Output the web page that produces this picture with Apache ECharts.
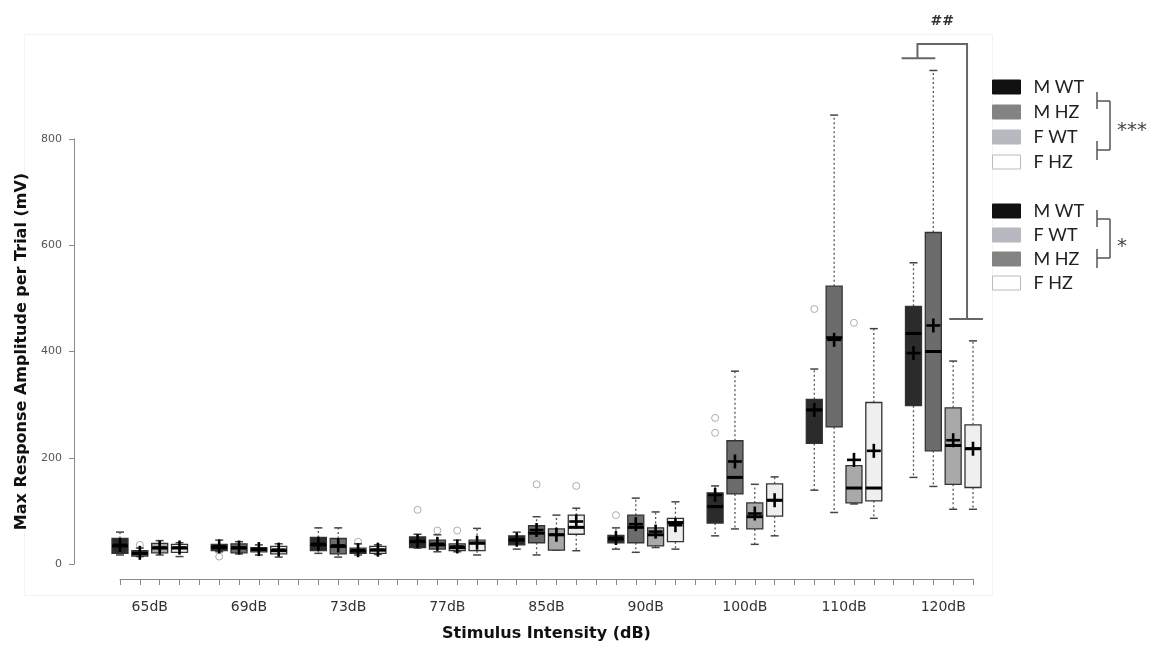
<!DOCTYPE html>
<html><head><meta charset="utf-8">
<script src="https://cdn.jsdelivr.net/npm/echarts@6/dist/echarts.min.js"></script>
<style>html,body{margin:0;padding:0;background:#fff}#c{width:1164px;height:649px}</style>
</head><body><div id="c"></div>
<script>
// ---------- data ----------
const intensities = ['65dB','69dB','73dB','77dB','85dB','90dB','100dB','110dB','120dB'];
const groupNames = ['M WT','M HZ','F WT','F HZ'];
const yTickMin = 0, yTickMax = 800, yTickStep = 200;
// each entry: [min, Q1, median, Q3, max, mean]  (mV)
const mWT = [[17,20,34,48,60,36],[23,25,31,37,45,33],[20,25,36,50,68,38],[30,31,42,51,56,43],[28,36,45,53,60,46],[28,40,47,54,68,49],[53,77,108,134,147,130],[139,227,290,310,367,290],[163,298,434,485,567,397]];
const mHZ = [[14,15,20,25,30,21],[19,21,30,38,42,31],[13,19,33,48,68,35],[23,28,36,45,55,38],[17,40,58,72,89,64],[22,40,69,92,124,75],[66,132,163,232,363,193],[97,258,426,523,845,422],[146,213,400,624,929,449]];
const fWT = [[17,21,30,39,44,31],[17,23,27,31,36,28],[17,20,24,30,38,26],[23,25,31,38,45,33],[26,26,55,66,92,55],[31,34,55,68,98,61],[37,66,89,115,150,95],[113,115,143,185,185,196],[103,150,223,294,382,233]];
const fHZ = [[14,22,30,37,40,31],[13,19,25,33,38,27],[18,20,26,33,36,27],[17,25,39,45,67,40],[25,56,69,92,105,80],[28,42,78,86,117,73],[53,90,120,151,164,120],[86,119,143,304,443,213],[103,144,217,262,420,217]];
// outliers: [intensity index, value]
const mWTout = [[1,14],[3,102],[5,92],[6,247],[6,275],[7,480]];
const mHZout = [[0,36],[3,63],[4,150]];
const fWTout = [[2,42],[3,63],[7,454]];
const fHZout = [[4,147]];
// significance bracket (slot units / mV)
const sigLeft = [39.4, 41.1, 952];
const sigTop = [40.2, 42.7, 979];
const sigRight = [41.8, 43.5, 461];
const sigLabel = ['##', 41.45, 1022];

// ---------- styles ----------
const fills = ['#2b2b2b','#6c6c6c','#a9a9a9','#efefef'];
const swatch = ['#111111','#838383','#b8b8c0','#ffffff'];
const SLOTS = 5;

function toBoxData(arr, j){ return arr.map((d,g)=>[g*SLOTS+j].concat(d)); }
function toOutData(arr, j){ return arr.map(d=>[d[0]*SLOTS+j, d[1]]); }

function boxRender(fill){
  return function(params, api){
    const x = api.value(0);
    const c = i => api.coord([x, api.value(i)]);
    const pMin=c(1), pQ1=c(2), pMed=c(3), pQ3=c(4), pMax=c(5), pMean=c(6);
    const cx = pMin[0], hw = 8, cap = 4, pl = 7;
    const wStyle = {stroke:'#555', lineWidth:1.3, lineDash:[2,2.5], fill:null};
    const cStyle = {stroke:'#444', lineWidth:1.5};
    return {type:'group', children:[
      {type:'line', shape:{x1:cx,y1:pQ3[1],x2:cx,y2:pMax[1]}, style:wStyle},
      {type:'line', shape:{x1:cx,y1:pQ1[1],x2:cx,y2:pMin[1]}, style:wStyle},
      {type:'line', shape:{x1:cx-cap,y1:pMax[1],x2:cx+cap,y2:pMax[1]}, style:cStyle},
      {type:'line', shape:{x1:cx-cap,y1:pMin[1],x2:cx+cap,y2:pMin[1]}, style:cStyle},
      {type:'rect', shape:{x:cx-hw,y:pQ3[1],width:hw*2,height:Math.max(pQ1[1]-pQ3[1],0.5)}, style:{fill:fill, stroke:'#333', lineWidth:1.3}},
      {type:'line', shape:{x1:cx-hw,y1:pMed[1],x2:cx+hw,y2:pMed[1]}, style:{stroke:'#000', lineWidth:3}},
      {type:'line', shape:{x1:cx-pl,y1:pMean[1],x2:cx+pl,y2:pMean[1]}, style:{stroke:'#000', lineWidth:2.6}},
      {type:'line', shape:{x1:cx,y1:pMean[1]-pl,x2:cx,y2:pMean[1]+pl}, style:{stroke:'#000', lineWidth:2.6}}
    ]};
  };
}

const boxSets = [mWT, mHZ, fWT, fHZ];
const outSets = [mWTout, mHZout, fWTout, fHZout];
const series = [];
groupNames.forEach((name, j)=>{
  series.push({
    type:'custom', name:name, xAxisIndex:0, yAxisIndex:0,
    itemStyle:{color: swatch[j]},
    encode:{x:0, y:[1,2,3,4,5,6]},
    data: toBoxData(boxSets[j], j),
    renderItem: boxRender(fills[j]),
    clip:false, z:3
  });
  series.push({
    type:'scatter', name:name+' outliers', xAxisIndex:0, yAxisIndex:0,
    symbol:'circle', symbolSize:7,
    itemStyle:{color:'#fff', borderColor:'#999', borderWidth:1},
    data: toOutData(outSets[j], j), z:2, clip:false
  });
});
series.push({
  type:'custom', name:'sig', xAxisIndex:0, yAxisIndex:0, clip:false, z:4,
  data:[[sigLabel[1], sigLabel[2]]],
  renderItem:function(params, api){
    const p = (x,y)=>api.coord([x,y]);
    const st = {stroke:'#666', lineWidth:2, fill:null};
    const a = p(sigLeft[0],sigLeft[2]), b = p(sigLeft[1],sigLeft[2]);
    const t0 = p(sigTop[0],sigLeft[2]), t1 = p(sigTop[0],sigTop[2]), t2 = p(sigTop[1],sigTop[2]), t3 = p(sigTop[1],sigRight[2]);
    const r0 = p(sigRight[0],sigRight[2]), r1 = p(sigRight[1],sigRight[2]);
    const lab = p(sigLabel[1], sigLabel[2]);
    return {type:'group', children:[
      {type:'line', shape:{x1:a[0],y1:a[1],x2:b[0],y2:b[1]}, style:st},
      {type:'polyline', shape:{points:[t0,t1,t2,t3]}, style:st},
      {type:'line', shape:{x1:r0[0],y1:r0[1],x2:r1[0],y2:r1[1]}, style:st},
      {type:'text', x:lab[0], y:lab[1], style:{text:sigLabel[0], fill:'#333', font:'bold 14px "DejaVu Sans"', align:'center', verticalAlign:'middle'}}
    ]};
  }
});

// ---------- layout ----------
const plotLeft = 120, plotRight = 973, plotTop = 139, plotBottom = 564;
const nSlot = 43;
const slotW = (plotRight - plotLeft) / nSlot;
const lblLeft = plotLeft - slotW, lblRight = plotRight + slotW;

function legendData(order){
  return order.map(n=>{
    const j = groupNames.indexOf(n);
    return {name:n, itemStyle:{color:swatch[j], borderColor: j===3 ? '#bbbbbb' : swatch[j], borderWidth: 1}};
  });
}
const legendCommon = {
  orient:'vertical', icon:'rect', itemWidth:28, itemHeight:14, padding:0,
  selectedMode:false,
  textStyle:{fontFamily:'Lato', fontSize:18, color:'#222', padding:[0,0,0,8]}
};

const bracketStyle = {stroke:'#555', lineWidth:1.5, fill:null};
function legendBracket(yTop, yBot){
  return [
    {type:'line', shape:{x1:1097,y1:yTop-9,x2:1097,y2:yTop+8}, style:bracketStyle},
    {type:'line', shape:{x1:1097,y1:yTop,x2:1110,y2:yTop}, style:bracketStyle},
    {type:'line', shape:{x1:1110,y1:yTop,x2:1110,y2:yBot}, style:bracketStyle},
    {type:'line', shape:{x1:1097,y1:yBot,x2:1110,y2:yBot}, style:bracketStyle},
    {type:'line', shape:{x1:1097,y1:yBot-9,x2:1097,y2:yBot+10}, style:bracketStyle}
  ];
}

const option = {
  animation:false,
  backgroundColor:'#fff',
  grid:[
    {left:plotLeft, right:1164-plotRight, top:plotTop, bottom:649-plotBottom, containLabel:false},
    {left:lblLeft, right:1164-lblRight, top:plotTop, bottom:649-plotBottom, containLabel:false}
  ],
  xAxis:[
    {type:'value', gridIndex:0, min:0, max:nSlot, interval:1, offset:15,
     axisLine:{show:true, onZero:false, lineStyle:{color:'#8a8a8a', width:1}},
     axisTick:{show:true, length:6, lineStyle:{color:'#8a8a8a'}},
     axisLabel:{show:false}, splitLine:{show:false},
     name:'Stimulus Intensity (dB)', nameLocation:'middle', nameGap:47,
     nameTextStyle:{fontFamily:'DejaVu Sans', fontWeight:'bold', fontSize:16, color:'#111'}},
    {type:'category', gridIndex:1, data:intensities, offset:15, boundaryGap:true,
     axisLine:{show:false, onZero:false}, axisTick:{show:false}, splitLine:{show:false},
     axisLabel:{margin:21, fontFamily:'DejaVu Sans', fontSize:14, color:'#333'}}
  ],
  yAxis:[
    {type:'value', gridIndex:0, min:yTickMin, max:yTickMax, interval:yTickStep, offset:plotLeft-74,
     axisLine:{show:true, onZero:false, lineStyle:{color:'#8a8a8a', width:1}},
     axisTick:{show:true, length:5, lineStyle:{color:'#8a8a8a'}},
     splitLine:{show:false},
     axisLabel:{margin:12, fontFamily:'DejaVu Sans', fontSize:11, color:'#555'},
     name:'Max Response Amplitude per Trial (mV)', nameLocation:'middle', nameGap:42,
     nameTextStyle:{fontFamily:'DejaVu Sans', fontWeight:'bold', fontSize:16, color:'#111'}},
    {type:'value', gridIndex:1, min:yTickMin, max:yTickMax, show:false}
  ],
  legend:[
    Object.assign({left:992, top:78, itemGap:7, data:legendData(['M WT','M HZ','F WT','F HZ'])}, legendCommon),
    Object.assign({left:992, top:202, itemGap:6, data:legendData(['M WT','F WT','M HZ','F HZ'])}, legendCommon)
  ],
  graphic:[
    {type:'rect', left:22, top:32, shape:{width:968, height:561}, style:{fill:null, stroke:'#f3f3f3', lineWidth:1}, silent:true, z:-1},
    {type:'group', children: legendBracket(101, 150).concat(legendBracket(219, 258))},
    {type:'text', left:1117, top:121, style:{text:'***', font:'20px "DejaVu Sans"', fill:'#444'}},
    {type:'text', left:1117, top:237, style:{text:'*', font:'20px "DejaVu Sans"', fill:'#444'}}
  ],
  series: series
};
const chart = echarts.init(document.getElementById('c'), null, {renderer:'canvas'});
chart.setOption(option);
</script>
</body></html>
